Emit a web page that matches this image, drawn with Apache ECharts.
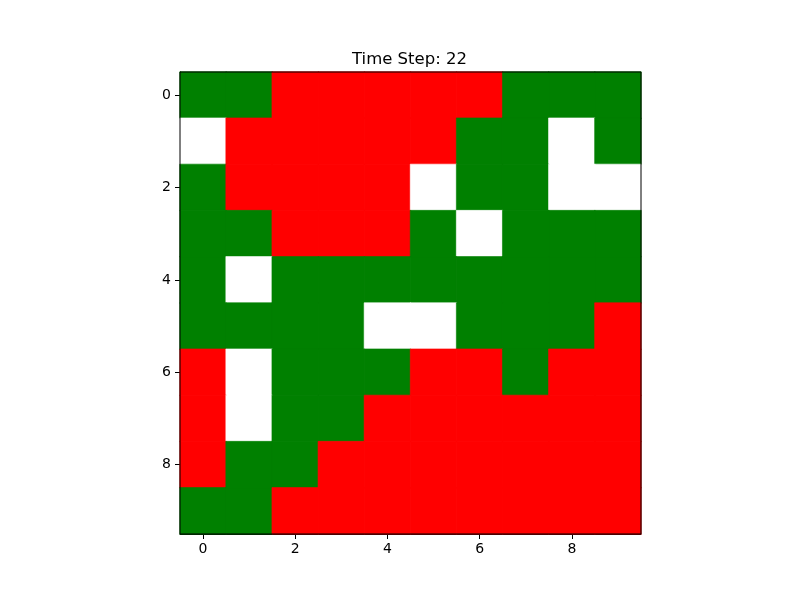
<!DOCTYPE html>
<html>
<head>
<meta charset="utf-8">
<script src="https://cdn.jsdelivr.net/npm/echarts@6/dist/echarts.min.js"></script>
<style>html,body{margin:0;padding:0;background:#fff}#c{width:800px;height:600px}</style>
</head>
<body>
<div id="c"></div>
<script>
// 0 = empty (white), 1 = tree (green), 2 = fire (red)
const titleText = 'Time Step: 22';
const xCategories = ['0','1','2','3','4','5','6','7','8','9'];
const yCategories = ['0','1','2','3','4','5','6','7','8','9'];
const row0 = [1,1,2,2,2,2,2,1,1,1];
const row1 = [0,2,2,2,2,2,1,1,0,1];
const row2 = [1,2,2,2,2,0,1,1,0,0];
const row3 = [1,1,2,2,2,1,0,1,1,1];
const row4 = [1,0,1,1,1,1,1,1,1,1];
const row5 = [1,1,1,1,0,0,1,1,1,2];
const row6 = [2,0,1,1,1,2,2,1,2,2];
const row7 = [2,0,1,1,2,2,2,2,2,2];
const row8 = [2,1,1,2,2,2,2,2,2,2];
const row9 = [1,1,2,2,2,2,2,2,2,2];
const rows = [row0,row1,row2,row3,row4,row5,row6,row7,row8,row9];
const stateColors = ['#ffffff', '#008000', '#ff0000'];

const data = [];
rows.forEach((r, yi) => r.forEach((v, xi) => data.push({
  value: [xi, yi, v],
  itemStyle: {color: stateColors[v], borderColor: stateColors[v], borderWidth: 0.6}
})));

const chart = echarts.init(document.getElementById('c'), null, {renderer: 'canvas'});
const labelFont = {fontFamily: 'DejaVu Sans', fontSize: 14, color: '#000'};
chart.setOption({
  animation: false,
  backgroundColor: '#fff',
  title: {
    text: titleText, left: 352, top: 51, padding: 0,
    textStyle: {fontFamily: 'DejaVu Sans', fontSize: 16.5, fontWeight: 'normal', color: '#000'}
  },
  grid: {left: 180, top: 72, width: 461, height: 462, show: true, borderColor: '#000', borderWidth: 1, backgroundColor: 'transparent', z: 10},
  xAxis: {
    type: 'category', data: xCategories, position: 'bottom',
    axisLine: {show: true, lineStyle: {color: '#000', width: 1}},
    axisTick: {show: true, alignWithLabel: true, length: 5, interval: (i) => i % 2 === 0, lineStyle: {color: '#000'}},
    axisLabel: Object.assign({interval: (i) => i % 2 === 0, margin: 8}, labelFont),
    splitLine: {show: false}
  },
  yAxis: {
    type: 'category', data: yCategories, inverse: true,
    axisLine: {show: true, lineStyle: {color: '#000', width: 1}},
    axisTick: {show: true, alignWithLabel: true, length: 5, interval: (i) => i % 2 === 0, lineStyle: {color: '#000'}},
    axisLabel: Object.assign({interval: (i) => i % 2 === 0, margin: 9}, labelFont),
    splitLine: {show: false}
  },
  series: [{
    type: 'heatmap', data: data,
    emphasis: {disabled: true}
  }]
});
</script>
</body>
</html>
